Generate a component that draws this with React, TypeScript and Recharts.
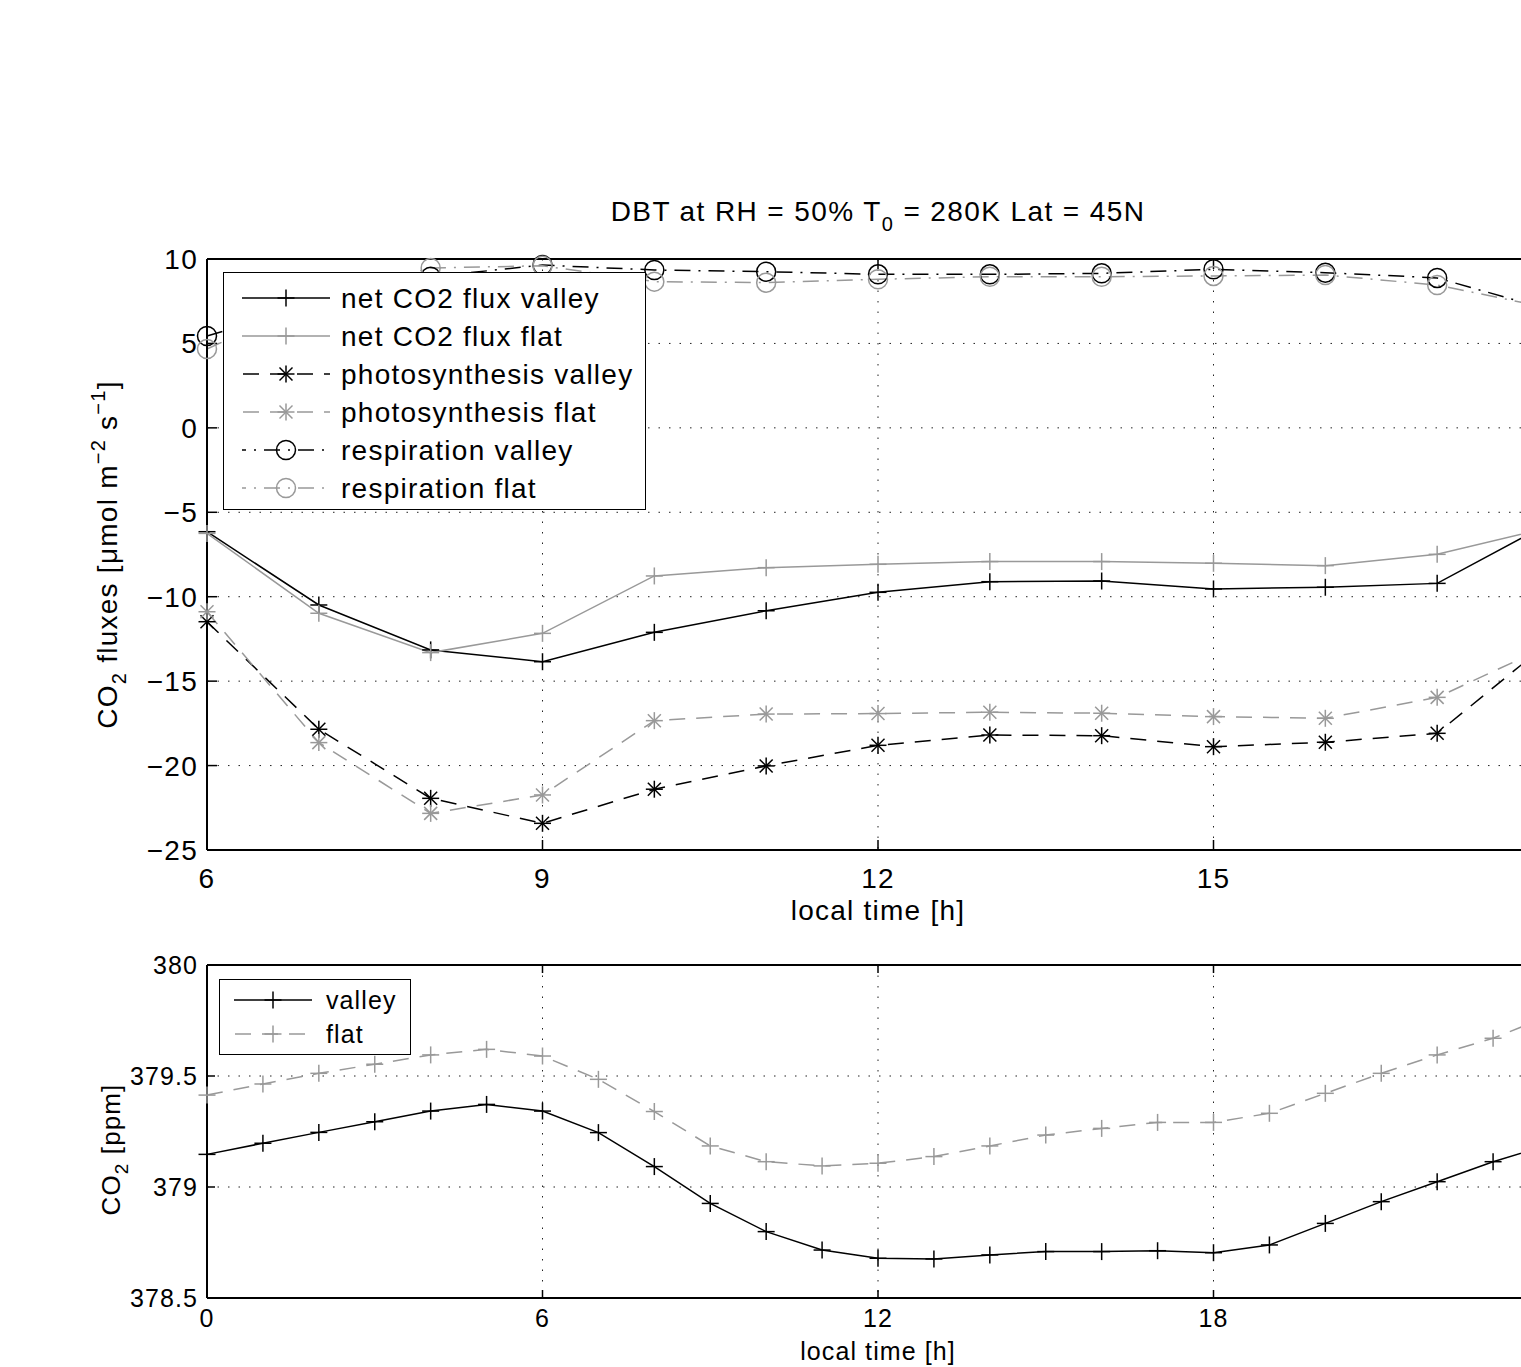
import React from 'react';
import { LineChart, Line, XAxis, YAxis, CartesianGrid, Label } from 'recharts';

// upper panel: hourly CO2 fluxes, 6h .. 18h
const fluxHours = [6, 7, 8, 9, 10, 11, 12, 13, 14, 15, 16, 17, 18];
const netValley = [-6.15, -10.49, -13.15, -13.85, -12.11, -10.83, -9.74, -9.11, -9.07, -9.54, -9.44, -9.21, -5.65];
const netFlat = [-6.25, -10.98, -13.31, -12.17, -8.77, -8.28, -8.08, -7.92, -7.92, -8.02, -8.16, -7.49, -5.9];
const photoValley = [-11.48, -17.85, -21.94, -23.42, -21.4, -20.02, -18.8, -18.19, -18.23, -18.88, -18.62, -18.09, -12.7];
const photoFlat = [-10.89, -18.64, -22.83, -21.74, -17.34, -16.95, -16.92, -16.84, -16.9, -17.1, -17.2, -15.96, -12.9];
const respValley = [5.44, 7.4, 8.95, 9.64, 9.35, 9.25, 9.09, 9.09, 9.15, 9.39, 9.19, 8.88, 7.0];
const respFlat = [4.67, 7.7, 9.47, 9.6, 8.66, 8.6, 8.8, 8.95, 8.95, 9.0, 9.05, 8.46, 7.1];

// lower panel: CO2 concentration, 0h .. 24h
const co2Hours = [0, 1, 2, 3, 4, 5, 6, 7, 8, 9, 10, 11, 12, 13, 14, 15, 16, 17, 18, 19, 20, 21, 22, 23, 24];
const co2Valley = [379.147, 379.197, 379.246, 379.294, 379.342, 379.372, 379.342, 379.245, 379.092, 378.926, 378.799, 378.716, 378.679, 378.676, 378.694, 378.709, 378.709, 378.713, 378.704, 378.739, 378.836, 378.934, 379.024, 379.114, 379.19];
const co2Flat = [379.414, 379.464, 379.512, 379.553, 379.595, 379.62, 379.59, 379.485, 379.34, 379.185, 379.114, 379.095, 379.107, 379.137, 379.185, 379.234, 379.264, 379.291, 379.291, 379.332, 379.422, 379.512, 379.595, 379.67, 379.77];

const fluxTicksX = [6, 9, 12, 15, 18];
const fluxTicksY = [-25, -20, -15, -10, -5, 0, 5, 10];
const co2TicksX = [0, 6, 12, 18, 24];
const co2TicksY = [378.5, 379, 379.5, 380];

const FONT = '"Liberation Sans", Arial, Helvetica, sans-serif';
const GRAY = '#999999';
const DASH = '16 11';
const DASHDOT = '16 8 2 8';
const LS_BIG = 1.25; // the original lettering runs a bit wider than Arial
const LS_SMALL = 1.1;

type MarkerKind = 'plus' | 'star' | 'ring';

const fluxSeries = [
  { key: 'netValley', name: 'net CO2 flux valley', color: '#000', dash: undefined, marker: 'plus' as MarkerKind },
  { key: 'netFlat', name: 'net CO2 flux flat', color: GRAY, dash: undefined, marker: 'plus' as MarkerKind },
  { key: 'photoValley', name: 'photosynthesis valley', color: '#000', dash: DASH, marker: 'star' as MarkerKind },
  { key: 'photoFlat', name: 'photosynthesis flat', color: GRAY, dash: DASH, marker: 'star' as MarkerKind },
  { key: 'respValley', name: 'respiration valley', color: '#000', dash: DASHDOT, marker: 'ring' as MarkerKind },
  { key: 'respFlat', name: 'respiration flat', color: GRAY, dash: DASHDOT, marker: 'ring' as MarkerKind },
];

const co2Series = [
  { key: 'valley', name: 'valley', color: '#000', dash: undefined, marker: 'plus' as MarkerKind },
  { key: 'flat', name: 'flat', color: GRAY, dash: DASH, marker: 'plus' as MarkerKind },
];

const fluxData = fluxHours.map((h, i) => ({
  hour: h,
  netValley: netValley[i],
  netFlat: netFlat[i],
  photoValley: photoValley[i],
  photoFlat: photoFlat[i],
  respValley: respValley[i],
  respFlat: respFlat[i],
}));

const co2Data = co2Hours.map((h, i) => ({ hour: h, valley: co2Valley[i], flat: co2Flat[i] }));

const Marker = ({ kind, cx, cy, color }: { kind: MarkerKind; cx: number; cy: number; color: string }) => {
  if (cx == null || cy == null) return null;
  if (kind === 'ring') {
    return <circle cx={cx} cy={cy} r={9.5} fill="none" stroke={color} strokeWidth={1.5} />;
  }
  const s = 8.5;
  const d = 6.5;
  return (
    <g stroke={color} strokeWidth={1.5} fill="none">
      <line x1={cx - s} y1={cy} x2={cx + s} y2={cy} />
      <line x1={cx} y1={cy - s} x2={cx} y2={cy + s} />
      {kind === 'star' && <line x1={cx - d} y1={cy - d} x2={cx + d} y2={cy + d} />}
      {kind === 'star' && <line x1={cx - d} y1={cy + d} x2={cx + d} y2={cy - d} />}
    </g>
  );
};

const dotFor = (kind: MarkerKind, color: string) => (p: any) => (
  <Marker key={`m-${p.index}`} kind={kind} cx={p.cx} cy={p.cy} color={color} />
);

const minus = (v: number) => (v < 0 ? `\u2212${Math.abs(v)}` : `${v}`);
// the last x tick sits past the cropped right edge of the figure, so its label is left out
const hideLast = (last: number) => (v: number) => (v === last ? '' : `${v}`);

type LegendItem = { name: string; color: string; dash?: string; marker: MarkerKind };

const LegendBox = ({ items, left, top, width, height, rowTop, rowH, x0, x1, textX, fontSize, spacing }: {
  items: LegendItem[]; left: number; top: number; width: number; height: number;
  rowTop: number; rowH: number; x0: number; x1: number; textX: number; fontSize: number; spacing: number;
}) => (
  <div style={{
    position: 'absolute', left, top, width, height, boxSizing: 'border-box',
    border: '1.5px solid #000', background: '#fff',
  }}>
    <svg width={width} height={height} style={{ position: 'absolute', left: -1.5, top: -1.5 }}>
      {items.map((it, i) => {
        const y = rowTop + i * rowH;
        return (
          <g key={it.name}>
            <line x1={x0} y1={y} x2={x1} y2={y} stroke={it.color} strokeWidth={1.5}
              strokeDasharray={it.dash} strokeDashoffset={it.dash === DASH ? -1 : it.dash ? 12 : 0} />
            <Marker kind={it.marker} cx={(x0 + x1) / 2} cy={y} color={it.color} />
            <text x={textX} y={y + fontSize * 0.36} fontSize={fontSize} fontFamily={FONT}
              letterSpacing={spacing} fill="#000">{it.name}</text>
          </g>
        );
      })}
    </svg>
  </div>
);

const axisLine = { stroke: '#000', strokeWidth: 2 };
const tickLine = { stroke: '#000', strokeWidth: 1.5 };
const bigTick = { fill: '#000', fontSize: 28, fontFamily: FONT, letterSpacing: LS_BIG };
const smallTick = { fill: '#000', fontSize: 25, fontFamily: FONT, letterSpacing: LS_SMALL };

const FluxChart = () => (
  <LineChart width={1600} height={950} data={fluxData}
    margin={{ top: 258, right: 51, left: 107, bottom: 40 }}>
    <CartesianGrid stroke="#222" strokeWidth={1} strokeDasharray="1.5 9" />
    <XAxis dataKey="hour" type="number" domain={[6, 18]} ticks={fluxTicksX} height={60}
      axisLine={axisLine} tickLine={tickLine} tickSize={-10} tickMargin={28} tick={bigTick}
      tickFormatter={hideLast(18)}>
      <Label content={(p: any) => (
        <text x={p.viewBox.x + p.viewBox.width / 2} y={p.viewBox.y + 70} textAnchor="middle"
          fontSize={28} fontFamily={FONT} letterSpacing={LS_BIG} fill="#000">local time [h]</text>
      )} />
    </XAxis>
    <XAxis xAxisId="top" orientation="top" type="number" domain={[6, 18]} ticks={fluxTicksX} height={1}
      axisLine={axisLine} tickLine={tickLine} tickSize={-10} tickFormatter={() => ''}>
      <Label content={(p: any) => (
        <text x={p.viewBox.x + p.viewBox.width / 2} y={p.viewBox.y - 37} textAnchor="middle"
          fontSize={28} fontFamily={FONT} letterSpacing={1.4} fill="#000">
          DBT at RH = 50% T<tspan dy={10} fontSize={20}>0</tspan><tspan dy={-10}> = 280K Lat = 45N</tspan>
        </text>
      )} />
    </XAxis>
    <YAxis type="number" domain={[-25, 10]} ticks={fluxTicksY} width={100}
      axisLine={axisLine} tickLine={tickLine} tickSize={-10} tickMargin={19}
      tickFormatter={minus} tick={bigTick}>
      <Label content={(p: any) => {
        const x = p.viewBox.x + 10;
        const y = p.viewBox.y + p.viewBox.height / 2;
        return (
          <text x={x} y={y} transform={`rotate(-90, ${x}, ${y})`} textAnchor="middle"
            fontSize={28} fontFamily={FONT} letterSpacing={LS_BIG} fill="#000">
            CO<tspan dy={9} fontSize={20}>2</tspan><tspan dy={-9}> fluxes [μmol m</tspan>
            <tspan dy={-12} fontSize={20}>−2</tspan><tspan dy={12}> s</tspan>
            <tspan dy={-12} fontSize={20}>−1</tspan><tspan dy={12}>]</tspan>
          </text>
        );
      }} />
    </YAxis>
    {fluxSeries.map((s) => (
      <Line key={s.key} dataKey={s.key} name={s.name} type="linear" stroke={s.color} strokeWidth={1.5}
        strokeDasharray={s.dash} dot={dotFor(s.marker, s.color)} activeDot={false} isAnimationActive={false} />
    ))}
  </LineChart>
);

const Co2Chart = () => (
  <LineChart width={1600} height={467} data={co2Data}
    margin={{ top: 64, right: 51, left: 107, bottom: 9 }}>
    <CartesianGrid stroke="#222" strokeWidth={1} strokeDasharray="1.5 9" />
    <XAxis dataKey="hour" type="number" domain={[0, 24]} ticks={co2TicksX} height={60}
      axisLine={axisLine} tickLine={tickLine} tickSize={-8} tickMargin={19} tick={smallTick}
      tickFormatter={hideLast(24)}>
      <Label content={(p: any) => (
        <text x={p.viewBox.x + p.viewBox.width / 2} y={p.viewBox.y + 62} textAnchor="middle"
          fontSize={25} fontFamily={FONT} letterSpacing={LS_SMALL} fill="#000">local time [h]</text>
      )} />
    </XAxis>
    <XAxis xAxisId="top" orientation="top" type="number" domain={[0, 24]} ticks={co2TicksX} height={1}
      axisLine={axisLine} tickLine={tickLine} tickSize={-8} tickFormatter={() => ''} />
    <YAxis type="number" domain={[378.5, 380]} ticks={co2TicksY} width={100}
      axisLine={axisLine} tickLine={tickLine} tickSize={-8} tickMargin={17} tick={smallTick}>
      <Label content={(p: any) => {
        const x = p.viewBox.x + 13;
        const y = p.viewBox.y + p.viewBox.height / 2 + 18;
        return (
          <text x={x} y={y} transform={`rotate(-90, ${x}, ${y})`} textAnchor="middle"
            fontSize={26} fontFamily={FONT} letterSpacing={LS_SMALL} fill="#000">
            CO<tspan dy={8} fontSize={19}>2</tspan><tspan dy={-8}> [ppm]</tspan>
          </text>
        );
      }} />
    </YAxis>
    {co2Series.map((s) => (
      <Line key={s.key} dataKey={s.key} name={s.name} type="linear" stroke={s.color} strokeWidth={1.5}
        strokeDasharray={s.dash} dot={dotFor(s.marker, s.color)} activeDot={false} isAnimationActive={false} />
    ))}
  </LineChart>
);

export default function App() {
  return (
    <div style={{
      position: 'absolute', left: 0, top: 0, width: 1521, height: 1367,
      overflow: 'hidden', background: '#fff',
    }}>
      <div style={{ position: 'absolute', left: 0, top: 0 }}>
        <FluxChart />
      </div>
      <div style={{ position: 'absolute', left: 0, top: 900 }}>
        <Co2Chart />
      </div>
      <LegendBox items={fluxSeries} left={223} top={272} width={423} height={238}
        rowTop={26} rowH={38} x0={19} x1={107} textX={118} fontSize={28} spacing={LS_BIG} />
      <LegendBox items={co2Series} left={219} top={979} width={192} height={76}
        rowTop={21} rowH={34} x0={15} x1={93} textX={107} fontSize={25} spacing={LS_SMALL} />
    </div>
  );
}
